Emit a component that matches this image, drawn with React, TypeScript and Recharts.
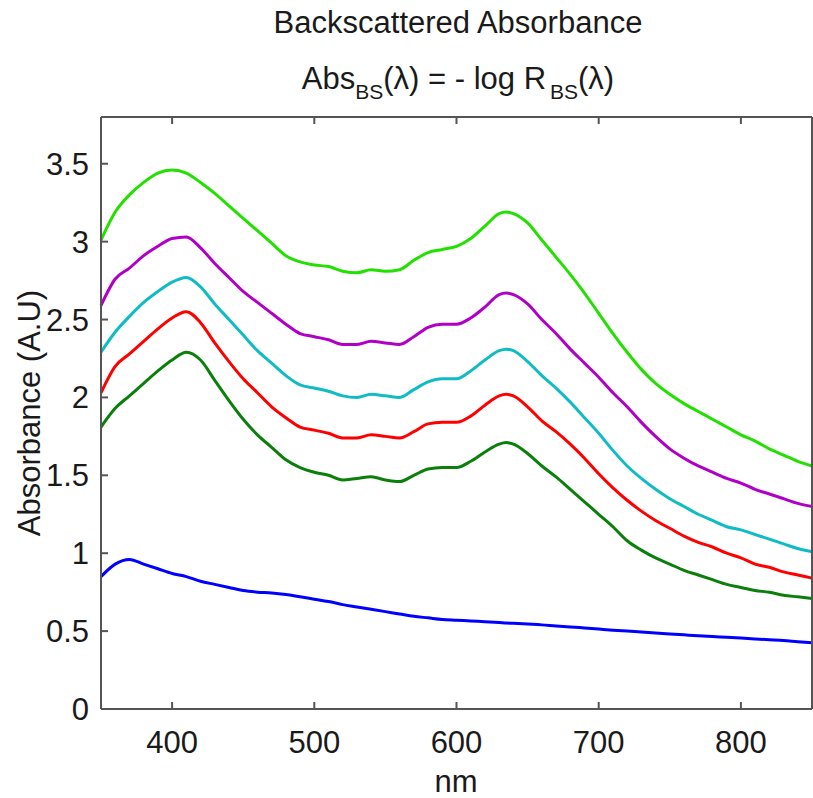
import { Line, LineChart, XAxis, YAxis } from "recharts";

const wavelengths = [
  350, 360, 370, 380, 390, 400, 410, 420, 430, 440, 450, 460, 470, 480, 490, 500, 510, 520, 530, 540,
  550, 560, 570, 580, 590, 600, 610, 620, 630, 635, 640, 650, 660, 670, 680, 690, 700, 710, 720, 730,
  740, 750, 760, 770, 780, 790, 800, 810, 820, 830, 840, 850,
];

const limeAbs = [
  3.01, 3.19, 3.3, 3.38, 3.44, 3.46, 3.44, 3.38, 3.31, 3.23, 3.15, 3.07, 2.99, 2.91, 2.87, 2.85, 2.84, 2.81, 2.8, 2.82,
  2.81, 2.82, 2.88, 2.93, 2.95, 2.97, 3.02, 3.1, 3.18, 3.19, 3.18, 3.12, 3.01, 2.9, 2.79, 2.67, 2.54, 2.41, 2.29, 2.18,
  2.09, 2.02, 1.96, 1.91, 1.86, 1.81, 1.76, 1.72, 1.67, 1.63, 1.59, 1.56,
];

const magentaAbs = [
  2.59, 2.76, 2.83, 2.91, 2.97, 3.02, 3.03, 2.96, 2.86, 2.77, 2.68, 2.61, 2.54, 2.47, 2.41, 2.39, 2.37, 2.34, 2.34, 2.36,
  2.35, 2.34, 2.39, 2.45, 2.47, 2.47, 2.51, 2.58, 2.66, 2.67, 2.66, 2.6, 2.5, 2.41, 2.31, 2.22, 2.13, 2.03, 1.94, 1.84,
  1.75, 1.67, 1.61, 1.56, 1.52, 1.48, 1.45, 1.41, 1.38, 1.35, 1.32, 1.3,
];

const cyanAbs = [
  2.29, 2.42, 2.52, 2.61, 2.68, 2.74, 2.77, 2.71, 2.6, 2.5, 2.4, 2.3, 2.22, 2.14, 2.08, 2.06, 2.04, 2.01, 2.0, 2.02,
  2.01, 2.0, 2.05, 2.1, 2.12, 2.12, 2.17, 2.24, 2.3, 2.31, 2.3, 2.23, 2.14, 2.06, 1.97, 1.87, 1.77, 1.66, 1.56, 1.48,
  1.41, 1.35, 1.3, 1.25, 1.21, 1.17, 1.15, 1.12, 1.09, 1.06, 1.03, 1.01,
];

const redAbs = [
  2.03, 2.2, 2.28, 2.36, 2.44, 2.51, 2.55, 2.48, 2.35, 2.23, 2.12, 2.03, 1.94, 1.87, 1.81, 1.79, 1.77, 1.74, 1.74, 1.76,
  1.75, 1.74, 1.78, 1.83, 1.84, 1.84, 1.88, 1.95, 2.01, 2.02, 2.01, 1.94, 1.85, 1.78, 1.7, 1.61, 1.51, 1.42, 1.34, 1.27,
  1.21, 1.16, 1.11, 1.07, 1.04, 1.0, 0.97, 0.93, 0.91, 0.88, 0.86, 0.84,
];

const darkGreenAbs = [
  1.81, 1.93, 2.01, 2.09, 2.17, 2.24, 2.29, 2.24, 2.11, 1.98, 1.86, 1.76, 1.68, 1.6, 1.55, 1.52, 1.5, 1.47, 1.48, 1.49,
  1.47, 1.46, 1.5, 1.54, 1.55, 1.55, 1.59, 1.65, 1.7, 1.71, 1.7, 1.64, 1.56, 1.49, 1.41, 1.33, 1.25, 1.17, 1.08, 1.02,
  0.97, 0.93, 0.89, 0.86, 0.83, 0.8, 0.78, 0.76, 0.75, 0.73, 0.72, 0.71,
];

const blueAbs = [
  0.85, 0.93, 0.96, 0.93, 0.9, 0.87, 0.85, 0.82, 0.8, 0.78, 0.76, 0.75, 0.745, 0.735, 0.72, 0.705, 0.69, 0.67, 0.655, 0.64,
  0.625, 0.61, 0.595, 0.585, 0.575, 0.57, 0.565, 0.56, 0.555, 0.552, 0.55, 0.545, 0.54, 0.533, 0.527, 0.52, 0.513, 0.506, 0.5, 0.494,
  0.488, 0.482, 0.476, 0.47, 0.465, 0.46, 0.455, 0.45, 0.445, 0.44, 0.432, 0.425,
];

const xTicks = [400, 500, 600, 700, 800];
const yTicks = [0, 0.5, 1, 1.5, 2, 2.5, 3, 3.5];

const data = wavelengths.map((nm, i) => ({
  nm,
  lime: limeAbs[i],
  magenta: magentaAbs[i],
  cyan: cyanAbs[i],
  red: redAbs[i],
  darkGreen: darkGreenAbs[i],
  blue: blueAbs[i],
}));

const series = [
  { key: "lime", color: "#22e000" },
  { key: "magenta", color: "#b000c8" },
  { key: "cyan", color: "#10bcc4" },
  { key: "red", color: "#ff0000" },
  { key: "darkGreen", color: "#0a800a" },
  { key: "blue", color: "#0000ff" },
];

const W = 813;
const H = 798;
const FONT = "'Liberation Sans', Arial, sans-serif";
const INK = "#1a1a1a";
const AXIS = "#555";
const TICK = 7;

// ticks point into the plot, like the original figure
function BottomTick({ x, y, payload }: any) {
  return (
    <g>
      <line x1={x} y1={y} x2={x} y2={y - TICK} stroke={AXIS} strokeWidth={2} />
      <text x={x} y={y + 44} textAnchor="middle" fontFamily={FONT} fontSize={31} fill={INK}>
        {payload.value}
      </text>
    </g>
  );
}

function TopTick({ x, y }: any) {
  return <line x1={x} y1={y} x2={x} y2={y + TICK} stroke={AXIS} strokeWidth={2} />;
}

function LeftTick({ x, y, payload }: any) {
  return (
    <g>
      <line x1={x} y1={y} x2={x + TICK} y2={y} stroke={AXIS} strokeWidth={2} />
      <text x={x - 12} y={y + 11} textAnchor="end" fontFamily={FONT} fontSize={31} fill={INK}>
        {payload.value}
      </text>
    </g>
  );
}

function RightTick({ x, y }: any) {
  return <line x1={x} y1={y} x2={x - TICK} y2={y} stroke={AXIS} strokeWidth={2} />;
}

export default function App() {
  return (
    <div style={{ position: "absolute", left: 0, top: 0, width: W, height: H, background: "#fff" }}>
      <LineChart width={W} height={H} data={data} margin={{ top: 116, right: 0, bottom: 88, left: 100 }}>
        <XAxis
          dataKey="nm"
          type="number"
          domain={[350, 850]}
          ticks={xTicks}
          height={1}
          tickSize={0}
          tickMargin={0}
          tickLine={false}
          axisLine={{ stroke: AXIS, strokeWidth: 2 }}
          tick={<BottomTick />}
        />
        <XAxis
          xAxisId="top"
          orientation="top"
          dataKey="nm"
          type="number"
          domain={[350, 850]}
          ticks={xTicks}
          height={1}
          tickSize={0}
          tickMargin={0}
          tickLine={false}
          axisLine={{ stroke: AXIS, strokeWidth: 2 }}
          tick={<TopTick />}
        />
        <YAxis
          type="number"
          domain={[0, 3.8]}
          ticks={yTicks}
          width={1}
          tickSize={0}
          tickMargin={0}
          tickLine={false}
          axisLine={{ stroke: AXIS, strokeWidth: 2 }}
          tick={<LeftTick />}
        />
        <YAxis
          yAxisId="right"
          orientation="right"
          type="number"
          domain={[0, 3.8]}
          ticks={yTicks}
          width={1}
          tickSize={0}
          tickMargin={0}
          tickLine={false}
          axisLine={{ stroke: AXIS, strokeWidth: 2 }}
          tick={<RightTick />}
        />
        {series.map((s) => (
          <Line
            key={s.key}
            type="monotone"
            dataKey={s.key}
            stroke={s.color}
            strokeWidth={3}
            dot={false}
            isAnimationActive={false}
          />
        ))}
      </LineChart>
      <svg
        width={W}
        height={H}
        style={{ position: "absolute", left: 0, top: 0, pointerEvents: "none" }}
        fontFamily={FONT}
        fill={INK}
      >
        <text x={458} y={33} textAnchor="middle" fontSize={31}>
          Backscattered Absorbance
        </text>
        <text x={458} y={89} textAnchor="middle" fontSize={31}>
          Abs
          <tspan fontSize={21} dy={10}>BS</tspan>
          <tspan dy={-10}>(λ) = - log R</tspan>
          <tspan fontSize={21} dx={4} dy={10}>BS</tspan>
          <tspan dy={-10}>(λ)</tspan>
        </text>
        <text x={456} y={792} textAnchor="middle" fontSize={31}>
          nm
        </text>
        <text x={40} y={413} textAnchor="middle" fontSize={31} transform="rotate(-90 40 413)">
          Absorbance (A.U)
        </text>
      </svg>
    </div>
  );
}
